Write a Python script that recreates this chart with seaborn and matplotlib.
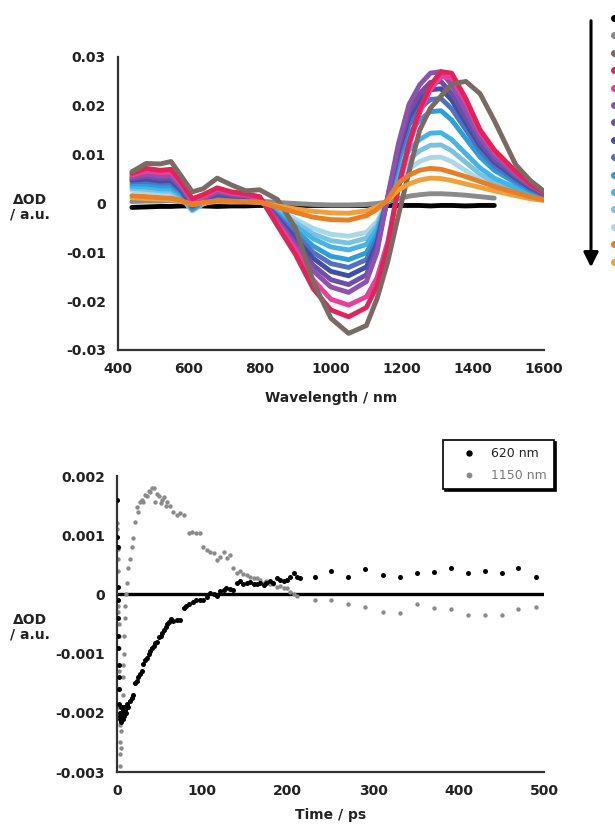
import numpy as np
import pandas as pd
import matplotlib
matplotlib.use("Agg")
import matplotlib.pyplot as plt
import seaborn as sns
from matplotlib.lines import Line2D
from matplotlib.ticker import MultipleLocator, FuncFormatter

nan = np.nan

# === Transient spectra (top panel) ===
wavelength = [440, 480, 520, 550, 580, 610, 640, 680, 720, 760, 800, 850, 900, 950, 1000,
              1050, 1100, 1130, 1160, 1190, 1220, 1250, 1280, 1310, 1340, 1380, 1420, 1460,
              1520, 1560, 1600]

spec_black = [-0.0008, -0.0007, -0.0006, -0.0006, -0.0005, -0.0005, -0.0005, -0.0006, -0.0005, -0.0005, -0.0004,
              -0.0004, -0.0004, -0.0004, -0.0004, -0.0004, -0.0004, -0.0004, -0.0004, -0.0004,
              -0.0004, -0.0004, -0.0005, -0.0004, -0.0004, -0.0005, -0.0004, -0.0004, nan, nan, nan]
spec_gray = [0.0004, 0.0005, 0.0005, 0.0006, 0.0004, 0.0002, 0.0003, 0.0004, 0.0004, 0.0004, 0.0005,
             0.0002, 0.0, -0.0002, -0.0003, -0.0003, -0.0002, 0.0, 0.0003, 0.001,
             0.0015, 0.0018, 0.002, 0.002, 0.0019, 0.0017, 0.0014, 0.0011, nan, nan, nan]
spec_brown = [0.0065, 0.0082, 0.0081, 0.0086, 0.0055, 0.0024, 0.0030, 0.0052, 0.0038, 0.0026, 0.0028,
              0.0008, -0.005, -0.016, -0.0235, -0.0266, -0.025, -0.0195, -0.012, -0.0025,
              0.0065, 0.015, 0.0195, 0.022, 0.0245, 0.025, 0.0225, 0.017, 0.008, 0.0048, 0.0025]
spec_crimson = [0.0062, 0.0072, 0.0068, 0.0070, 0.0042, 0.0010, 0.0018, 0.0032, 0.0024, 0.0020, 0.0014,
                -0.0046, -0.0104, -0.0174, -0.0218, -0.0232, -0.0213, -0.0169, -0.0088,
                0.0033, 0.0124, 0.0193, 0.0242, 0.027, 0.0267, 0.0215, 0.0151, 0.011, 0.0066, 0.0041, 0.0022]
spec_magenta = [0.0058, 0.0066, 0.0063, 0.0064, 0.0038, 0.0006, 0.0014, 0.0029, 0.0021, 0.0018, 0.0012,
                -0.0042, -0.0094, -0.0156, -0.0196, -0.0208, -0.0191, -0.0152, -0.0079,
                0.0032, 0.0119, 0.0186, 0.0233, 0.026, 0.0257, 0.0207, 0.0146, 0.0106, 0.0064, 0.004, 0.0021]
spec_purple = [0.0054, 0.0060, 0.0056, 0.0057, 0.0033, 0.0002, 0.0011, 0.0025, 0.0019, 0.0016, 0.0011,
               -0.0036, -0.0087, -0.0138, -0.0171, -0.0182, -0.016, -0.010, 0.0014,
               0.0122, 0.0203, 0.0243, 0.0267, 0.027, 0.0243, 0.0189, 0.0135, 0.0097, 0.0059, 0.0038, 0.0022]
spec_violet = [0.0051, 0.0055, 0.0051, 0.0052, 0.0030, -0.0002, 0.0009, 0.0022, 0.0017, 0.0015, 0.0010,
               -0.0033, -0.008, -0.0126, -0.0156, -0.0166, -0.0146, -0.0091, 0.0012,
               0.0113, 0.0188, 0.0225, 0.0248, 0.025, 0.0225, 0.0175, 0.0125, 0.009, 0.0055, 0.0035, 0.002]
spec_darkblue = [0.0048, 0.0050, 0.0046, 0.0047, 0.0027, -0.0005, 0.0007, 0.0019, 0.0015, 0.0013, 0.0009,
                 -0.003, -0.0071, -0.0112, -0.0139, -0.0148, -0.013, -0.0081, 0.0012,
                 0.0106, 0.0176, 0.0212, 0.0233, 0.0235, 0.0212, 0.0165, 0.0118, 0.0085, 0.0052, 0.0033, 0.0019]
spec_blue = [0.0045, 0.0045, 0.0042, 0.0042, 0.0024, -0.0008, 0.0005, 0.0017, 0.0013, 0.0012, 0.0008,
             -0.0026, -0.0063, -0.01, -0.0123, -0.0131, -0.0115, -0.0072, 0.0011,
             0.0097, 0.0161, 0.0194, 0.0213, 0.0215, 0.0194, 0.0151, 0.0108, 0.0077, 0.0047, 0.003, 0.0017]
spec_sky = [0.0040, 0.0040, 0.0036, 0.0036, 0.0020, -0.0011, 0.0003, 0.0014, 0.0011, 0.0010, 0.0007,
            -0.0023, -0.0055, -0.0087, -0.0108, -0.0115, -0.0101, -0.0063, 0.001,
            0.0086, 0.0143, 0.0171, 0.0188, 0.019, 0.0171, 0.0133, 0.0095, 0.0068, 0.0042, 0.0027, 0.0015]
spec_light = [0.0035, 0.0034, 0.0030, 0.0030, 0.0016, -0.0013, 0.0001, 0.0011, 0.0009, 0.0008, 0.0006,
              -0.0019, -0.0046, -0.0072, -0.0089, -0.0095, -0.0084, -0.0052, 0.0007,
              0.0065, 0.0109, 0.0131, 0.0144, 0.0145, 0.0131, 0.0102, 0.0073, 0.0052, 0.0032, 0.002, 0.0012]
spec_lighter = [0.0031, 0.0029, 0.0026, 0.0025, 0.0013, -0.0014, 0.0000, 0.0009, 0.0008, 0.0007, 0.0005,
                -0.0016, -0.0039, -0.0062, -0.0076, -0.0081, -0.0071, -0.0045, 0.0006,
                0.0054, 0.009, 0.0108, 0.0119, 0.012, 0.0108, 0.0084, 0.006, 0.0043, 0.0026, 0.0017, 0.001]
spec_pale = [0.0027, 0.0024, 0.0022, 0.0021, 0.0011, -0.0015, -0.0001, 0.0008, 0.0007, 0.0006, 0.0004,
             -0.0013, -0.0032, -0.0051, -0.0063, -0.0067, -0.0059, -0.0037, 0.0005,
             0.0043, 0.0071, 0.0086, 0.0094, 0.0095, 0.0086, 0.0067, 0.0048, 0.0034, 0.0021, 0.0013, 0.0008]
spec_orange = [0.0016, 0.0014, 0.0012, 0.0011, 0.0006, -0.0003, 0.0002, 0.0006, 0.0005, 0.0004, 0.0003,
               -0.0008, -0.0018, -0.0028, -0.0033, -0.0034, -0.0025, -0.0012, 0.0008,
               0.0042, 0.0058, 0.0068, 0.0072, 0.007, 0.0064, 0.0055, 0.0045, 0.0035, 0.0022, 0.0014, 0.0008]
spec_lightorange = [0.0012, 0.001, 0.0009, 0.0008, 0.0004, -0.0002, 0.0001, 0.0004, 0.0003, 0.0003, 0.0002,
                    -0.0005, -0.0011, -0.0016, -0.0019, -0.002, -0.0015, -0.0007, 0.0006,
                    0.0028, 0.004, 0.0048, 0.0052, 0.0051, 0.0047, 0.004, 0.0033, 0.0026, 0.0016, 0.001, 0.0006]

# legend order (top to bottom of the arrow)
trace_names = ["black", "gray", "brown", "crimson", "magenta", "purple", "violet", "darkblue",
               "blue", "sky", "light", "lighter", "pale", "orange", "lightorange"]
trace_values = [spec_black, spec_gray, spec_brown, spec_crimson, spec_magenta, spec_purple, spec_violet,
                spec_darkblue, spec_blue, spec_sky, spec_light, spec_lighter, spec_pale, spec_orange,
                spec_lightorange]
trace_colors = ["#000000", "#8a8a8a", "#7a6a64", "#e0245a", "#e8409a", "#9050b0", "#6e4ea6", "#3f4fa6",
                "#4f72c2", "#2a9fdc", "#45b3e8", "#78c3e2", "#a9d8ea", "#e87e26", "#f2a03c"]
draw_order = ["black", "gray", "pale", "lighter", "light", "sky", "blue", "darkblue", "violet",
              "purple", "magenta", "crimson", "brown", "lightorange", "orange"]

# === Kinetic traces (bottom panel) ===
time_620 = [0.3, 0.5, 0.7, 0.9, 1.1, 1.3, 1.5, 1.7, 1.9, 2.1, 2.4, 2.7,
            3.0, 3.4, 3.8, 4.2, 4.6, 5.0, 5.4, 5.8, 6.2, 6.6, 7.0, 7.5, 8.0, 8.5, 9.0, 9.5, 10, 11, 12, 13,
            15, 17, 19, 21, 23, 25, 27, 29, 31, 33, 35, 37, 39, 41, 43, 45, 47, 49, 51, 53, 55, 57, 59,
            61, 63, 66, 70, 74, 78, 81, 84, 89, 93, 97, 101, 105, 109, 113, 117, 121, 125, 128, 132, 136,
            140, 144, 148, 152, 156, 160, 164, 168, 172, 175, 179, 183, 187, 191, 195, 199, 203, 207, 211,
            214, 232, 251, 270, 290, 311, 331, 351, 371, 391, 411, 431, 451, 470, 491]
dod_620 = [0.0016, 0.00097, 0.0008, 0.00013, -0.0001, -0.0004, -0.0007, -0.0009, -0.0012, -0.0014, -0.0016, -0.00185,
           -0.0021, -0.002, -0.00205, -0.0019, -0.0021, -0.00215, -0.002, -0.0019, -0.00205, -0.0021, -0.00195,
           -0.002, -0.0019, -0.00205, -0.00195, -0.0019, -0.002, -0.0019, -0.00185, -0.0019,
           -0.0018, -0.00175, -0.0017, -0.0015, -0.00146, -0.0014, -0.00135, -0.0013, -0.00118, -0.0011,
           -0.00107, -0.001, -0.00095, -0.0009, -0.00088, -0.00082, -0.0008, -0.00072, -0.0007, -0.00065,
           -0.0006, -0.00055, -0.0005, -0.00046, -0.00042, -0.00045, -0.00044, -0.00043, -0.00023, -0.0002,
           -0.00017, -0.00012, -0.00009, -0.0001, -0.0001, -0.00004, 0.00002, 0.0, -0.00003, 0.00005,
           0.00008, 0.0001, 0.00009, 0.00008, 0.0002, 0.00022, 0.00017, 0.00019, 0.00021, 0.00018, 0.00017,
           0.0002, 0.00016, 0.00019, 0.00022, 0.0002, 0.00027, 0.00024, 0.00022, 0.00025, 0.0003, 0.00036,
           0.0003, 0.00028, 0.0003, 0.00039, 0.0003, 0.00043, 0.00033, 0.0003, 0.00036, 0.00037, 0.00044,
           0.00036, 0.00039, 0.00036, 0.00044, 0.0003]

time_1150 = [0.3, 0.5, 0.7, 0.9, 1.1, 1.3, 1.5, 1.7, 1.9, 2.1, 2.3, 2.5, 2.7, 2.9, 3.1, 3.4, 3.7, 4.0,
             4.5, 5.0, 5.5, 6.0, 6.5, 7.0, 7.5, 8.0, 8.5, 9.0, 9.5, 10.5, 11.5, 13, 15, 17, 19, 21, 23, 25,
             27, 29, 31, 33, 35, 37, 39, 41, 43, 45, 47, 49, 51, 53, 55, 57, 59, 62, 66, 70, 74, 78, 84,
             88, 93, 97, 101, 105, 109, 113, 117, 121, 125, 129, 132, 136, 140, 144, 148, 152, 156, 160,
             164, 168, 172, 175, 179, 183, 187, 191, 195, 199, 203, 207, 211, 232, 251, 270, 290, 311, 331,
             351, 371, 391, 411, 431, 451, 470, 491]
dod_1150 = [0.0012, 0.0011, 0.00077, 0.0006, 0.0004, -0.0001, -0.0002, -0.0003, -0.0005, -0.0007, -0.0009,
            -0.0013, -0.0016, -0.0019, -0.0022, -0.0025, -0.0027, -0.0029, -0.0026, -0.0023, -0.002, -0.0019,
            -0.0017, -0.0014, -0.0012, -0.001, -0.0007, -0.0004, -0.0002, 0.0, 0.0002, 0.00044, 0.0006,
            0.0008, 0.00095, 0.00123, 0.00148, 0.0014, 0.00156, 0.0016, 0.00156, 0.00168, 0.00167, 0.00175,
            0.00173, 0.0018, 0.00179, 0.00156, 0.0017, 0.00167, 0.00155, 0.0016, 0.00165, 0.0015, 0.00156,
            0.0015, 0.0014, 0.00134, 0.00137, 0.00134, 0.00103, 0.00106, 0.00103, 0.00103, 0.0008, 0.00075,
            0.00072, 0.0007, 0.00058, 0.00063, 0.00072, 0.00062, 0.00066, 0.00044, 0.00036, 0.0004, 0.00035,
            0.00033, 0.0003, 0.00027, 0.00027, 0.00024, 0.0002, 0.00022, 0.00018, 0.00017, 0.00013, 0.00014,
            0.0001, 0.0001, 0.00004, 0.00001, -0.00003, -0.00009, -0.0001, -0.00016, -0.00021, -0.00029,
            -0.00031, -0.00016, -0.00023, -0.00025, -0.00034, -0.00034, -0.00034, -0.00025, -0.00021]

series_labels = ["620 nm", "1150 nm"]
series_colors = ["#000000", "#8a8a8a"]

W, H = 615, 824
TEXT = "#222222"
AXIS = "#333333"


def style_axes(ax, major_x, minor_x, major_y, minor_y, fmt):
    sns.despine(ax=ax)
    for side in ["left", "bottom"]:
        ax.spines[side].set_linewidth(1.6)
        ax.spines[side].set_color(AXIS)
    ax.xaxis.set_major_locator(MultipleLocator(major_x))
    ax.xaxis.set_minor_locator(MultipleLocator(minor_x))
    ax.yaxis.set_major_locator(MultipleLocator(major_y))
    ax.yaxis.set_minor_locator(MultipleLocator(minor_y))
    ax.yaxis.set_major_formatter(FuncFormatter(lambda v, p: "0" if abs(v) < 1e-12 else fmt.format(v)))
    ax.tick_params(which="both", direction="in", color=AXIS, labelcolor=TEXT,
                   width=1.3, pad=8.5, labelsize=10)
    ax.tick_params(which="major", length=6)
    ax.tick_params(which="minor", length=3.5)


def main():
    sns.set_style("white")
    plt.rcParams["font.family"] = ["DejaVu Sans"]
    plt.rcParams["font.weight"] = "bold"

    fig = plt.figure(figsize=(W / 100, H / 100), dpi=100)

    # --- top: spectra ---
    rows = []
    for name, vals in zip(trace_names, trace_values):
        for w, v in zip(wavelength, vals):
            rows.append({"wavelength": w, "dOD": v, "trace": name})
    spec = pd.DataFrame(rows).dropna()
    palette = dict(zip(trace_names, trace_colors))

    ax1 = fig.add_axes([117.7 / W, 1 - 350 / H, (544 - 117.7) / W, (350 - 57) / H])
    sns.lineplot(data=spec, x="wavelength", y="dOD", hue="trace", hue_order=draw_order,
                 palette=palette, estimator=None, linewidth=3.5, legend=False, ax=ax1)
    for line in ax1.get_lines():
        line.set_solid_capstyle("round")
        line.set_solid_joinstyle("round")
    ax1.set_xlim(400, 1600)
    ax1.set_ylim(-0.03, 0.03)
    style_axes(ax1, 200, 50, 0.01, 0.002, "{:.2f}")
    ax1.set_xlabel("Wavelength / nm", fontsize=10, fontweight="bold", color=TEXT, labelpad=11)
    ax1.set_ylabel("")
    fig.text(30 / W, 1 - 207 / H, "\u0394OD\n/ a.u.", ha="center", va="center",
             fontsize=10, fontweight="bold", color=TEXT, linespacing=1.05)

    # colour key and time arrow at the right edge
    for i, c in enumerate(trace_colors):
        fig.add_artist(Line2D([614 / W], [1 - (18 + i * 17.4) / H], transform=fig.transFigure,
                              marker="o", markersize=4, color=c, linestyle=""))
    ax1.annotate("", xy=(591 / W, 1 - 270 / H), xytext=(591 / W, 1 - 18 / H),
                 xycoords="figure fraction", textcoords="figure fraction",
                 arrowprops=dict(arrowstyle="-|>", lw=2.2, color="black", mutation_scale=22))

    # --- bottom: kinetics ---
    kin = pd.concat([
        pd.DataFrame({"time": time_620, "dOD": dod_620, "series": series_labels[0]}),
        pd.DataFrame({"time": time_1150, "dOD": dod_1150, "series": series_labels[1]}),
    ])
    ax2 = fig.add_axes([117 / W, 1 - 772 / H, (544 - 117) / W, (772 - 476) / H])
    ax2.axhline(0, color="black", lw=2.4, zorder=1)
    sns.scatterplot(data=kin[kin["series"] == series_labels[1]], x="time", y="dOD",
                    color=series_colors[1], s=10, linewidth=0, legend=False, ax=ax2, zorder=2)
    sns.scatterplot(data=kin[kin["series"] == series_labels[0]], x="time", y="dOD",
                    color=series_colors[0], s=13, linewidth=0, legend=False, ax=ax2, zorder=3)
    ax2.set_xlim(0, 500)
    ax2.set_ylim(-0.003, 0.002)
    style_axes(ax2, 100, 20, 0.001, 0.0002, "{:.3f}")
    ax2.set_xlabel("Time / ps", fontsize=10, fontweight="bold", color=TEXT, labelpad=7)
    ax2.set_ylabel("")
    fig.text(30 / W, 1 - 627 / H, "\u0394OD\n/ a.u.", ha="center", va="center",
             fontsize=10, fontweight="bold", color=TEXT, linespacing=1.05)

    handles = [Line2D([], [], ls="", marker="o", ms=3.6, color=series_colors[0]),
               Line2D([], [], ls="", marker="o", ms=3.2, color=series_colors[1])]
    leg = ax2.legend(handles, series_labels, loc="upper left",
                     bbox_to_anchor=(437 / W, 1 - 434 / H), bbox_transform=fig.transFigure,
                     frameon=True, fancybox=False, edgecolor="black", framealpha=1,
                     borderpad=0.55, labelspacing=0.7, handlelength=3.0, handletextpad=0.3,
                     prop={"size": 9, "weight": "normal"}, labelcolor=["#222222", "#7a7a7a"],
                     shadow={"ox": 1.5, "oy": -1.5, "facecolor": "black", "edgecolor": "black", "alpha": 1})
    leg.get_frame().set_linewidth(1.2)

    fig.savefig("out.png", dpi=100)


if __name__ == "__main__":
    main()
